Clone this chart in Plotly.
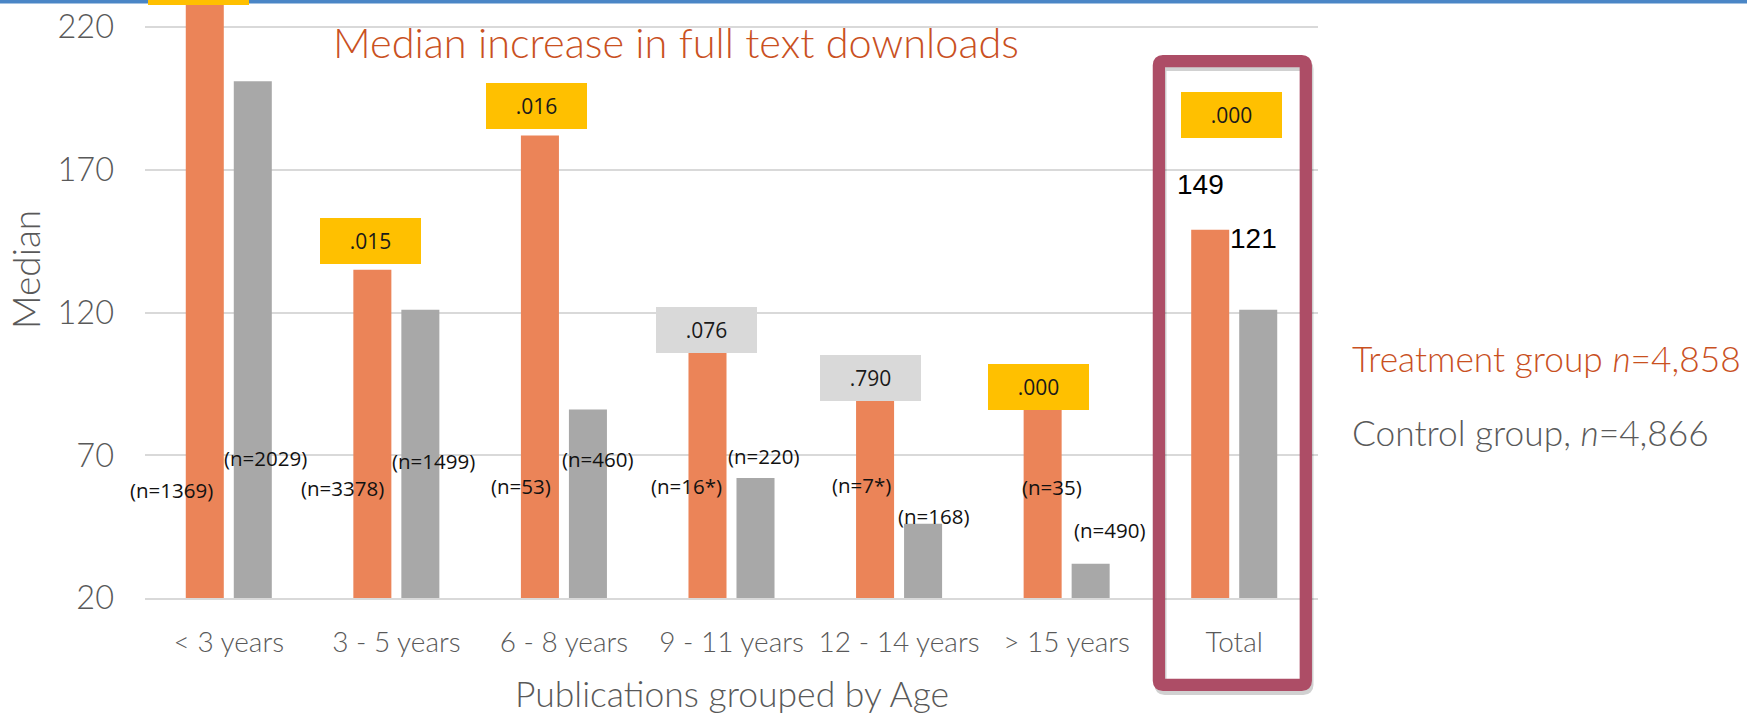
import plotly.graph_objects as go

# ---------------- data ----------------
categories = ["< 3 years", "3 - 5 years", "6 - 8 years", "9 - 11 years",
              "12 - 14 years", "> 15 years", "Total"]
treatment = [235, 135, 182, 106, 89, 86, 149]
control = [201, 121, 86, 62, 46, 32, 121]
p_values = [" ", ".015", ".016", ".076", ".790", ".000", ".000"]
significant = [True, True, True, False, False, True, True]
treat_n = ["(n=1369)", "(n=3378)", "(n=53)", "(n=16*)", "(n=7*)", "(n=35)"]
ctrl_n = ["(n=2029)", "(n=1499)", "(n=460)", "(n=220)", "(n=168)", "(n=490)"]
total_labels = ["149", "121"]
y_ticks = [20, 70, 120, 170, 220]

# ---------------- layout helpers (pixel -> paper) ----------------
W, H = 1747, 717
L, R, T, B = 145, 1318, 0, 598


def fx(p):
    return (p - L) / (R - L)


def fy(p):
    return (B - p) / (B - T)


FONT = "Lato"
ORANGE = "#EB8458"
GRAY = "#A8A8A8"
TXT = "#595959"
TITLE_C = "#C9511F"
YELLOW = "#FFC000"
LGRAY = "#D9D9D9"
FRAME = "#AD4D66"

fig = go.Figure()
fig.add_trace(go.Bar(x=categories, y=treatment, marker_color=ORANGE,
                     marker_line_width=0, name="Treatment"))
fig.add_trace(go.Bar(x=categories, y=control, marker_color=GRAY,
                     marker_line_width=0, name="Control"))

ann = []
# p-value boxes (pixel centres)
p_box_xy = [(198.5, -17.8), (370, 241), (536, 106.4), (706, 330.4),
            (870, 377.7), (1038, 387), (1231.5, 115)]
for (bx, by), txt, sig in zip(p_box_xy, p_values, significant):
    ann.append(dict(x=fx(bx), y=fy(by), xref="paper", yref="paper",
                    text=txt, showarrow=False, width=101, height=46,
                    bgcolor=YELLOW if sig else LGRAY, borderpad=0, borderwidth=0,
                    font=dict(family="Open Sans", size=21, color="#1a1a1a"),
                    xanchor="center", yanchor="middle"))

treat_n_xy = [(171, 490), (342, 488), (521, 486), (686, 486), (861, 485), (1052, 487)]
ctrl_n_xy = [(265, 458), (433, 461), (598, 459), (764, 456), (934, 516), (1110, 530)]
for (nx, ny), txt in list(zip(treat_n_xy, treat_n)) + list(zip(ctrl_n_xy, ctrl_n)):
    ann.append(dict(x=fx(nx), y=fy(ny), xref="paper", yref="paper", text=txt,
                    showarrow=False, font=dict(family="Open Sans", size=20.5, color="#111111"),
                    xanchor="center", yanchor="middle"))

total_xy = [(1200.5, 184.5), (1253, 238.6)]
for (tx, ty), txt in zip(total_xy, total_labels):
    ann.append(dict(x=fx(tx), y=fy(ty), xref="paper", yref="paper", text=txt,
                    showarrow=False, font=dict(family="Liberation Sans", size=28, color="#000000"),
                    xanchor="center", yanchor="middle"))

# title
ann.append(dict(x=fx(331), y=fy(42), xref="paper", yref="paper",
                text="Median increase in full text downloads", showarrow=False,
                font=dict(family=FONT, size=41.5, color=TITLE_C, weight=300),
                xanchor="left", yanchor="middle"))
# legend-like texts
ann.append(dict(x=fx(1350), y=fy(359), xref="paper", yref="paper",
                text="Treatment group <i>n</i>=4,858", showarrow=False,
                font=dict(family=FONT, size=35.3, color=TITLE_C, weight=300),
                xanchor="left", yanchor="middle"))
ann.append(dict(x=fx(1350), y=fy(432), xref="paper", yref="paper",
                text="Control group, <i>n</i>=4,866", showarrow=False,
                font=dict(family=FONT, size=35.3, color=TXT, weight=300),
                xanchor="left", yanchor="middle"))
# axis titles
ann.append(dict(x=fx(25), y=fy(270), xref="paper", yref="paper", text="Median",
                textangle=-90, showarrow=False,
                font=dict(family=FONT, size=37, color=TXT, weight=300),
                xanchor="center", yanchor="middle"))
ann.append(dict(x=fx(732), y=fy(694), xref="paper", yref="paper",
                text="Publications grouped by Age", showarrow=False,
                font=dict(family=FONT, size=35.5, color=TXT, weight=300),
                xanchor="center", yanchor="middle"))

# ---------------- shapes ----------------
def rounded_path(x0, y0, x1, y1, r):
    pts = []
    pts.append(f"M {fx(x0 + r)},{fy(y0)}")
    pts.append(f"L {fx(x1 - r)},{fy(y0)}")
    pts.append(f"Q {fx(x1)},{fy(y0)} {fx(x1)},{fy(y0 + r)}")
    pts.append(f"L {fx(x1)},{fy(y1 - r)}")
    pts.append(f"Q {fx(x1)},{fy(y1)} {fx(x1 - r)},{fy(y1)}")
    pts.append(f"L {fx(x0 + r)},{fy(y1)}")
    pts.append(f"Q {fx(x0)},{fy(y1)} {fx(x0)},{fy(y1 - r)}")
    pts.append(f"L {fx(x0)},{fy(y0 + r)}")
    pts.append(f"Q {fx(x0)},{fy(y0)} {fx(x0 + r)},{fy(y0)}")
    pts.append("Z")
    return " ".join(pts)


shapes = [
    dict(type="path", xref="paper", yref="paper",
         path=rounded_path(1160.5, 65, 1307.5, 689, 4),
         line=dict(color="rgba(0,0,0,0.18)", width=12), layer="above"),
    dict(type="path", xref="paper", yref="paper",
         path=rounded_path(1158.9, 61.2, 1305.8, 684.8, 4),
         line=dict(color=FRAME, width=12.3), layer="above"),
    dict(type="rect", xref="paper", yref="paper", x0=fx(0), x1=fx(W),
         y0=fy(3.5), y1=fy(-2), fillcolor="#4A86C6", line=dict(width=0), layer="above"),
]

fig.update_layout(
    width=W, height=H,
    margin=dict(l=L, r=W - R, t=T, b=H - B, pad=0),
    paper_bgcolor="white", plot_bgcolor="white",
    barmode="group", bargap=0.427, bargroupgap=0.208,
    showlegend=False,
    annotations=ann, shapes=shapes,
    xaxis=dict(showgrid=False, showline=True, linecolor=LGRAY, linewidth=2,
               ticks="", tickfont=dict(family=FONT, size=28, color=TXT, weight=300),
               ticklabelstandoff=18),
    yaxis=dict(range=[20, 20 + (B - T) / 2.855], tickvals=y_ticks,
               showgrid=True, gridcolor=LGRAY, gridwidth=2, zeroline=False,
               showline=False, ticks="",
               tickfont=dict(family=FONT, size=32.5, color=TXT, weight=300),
               ticklabelstandoff=30),
)

fig.write_html("out.html")
